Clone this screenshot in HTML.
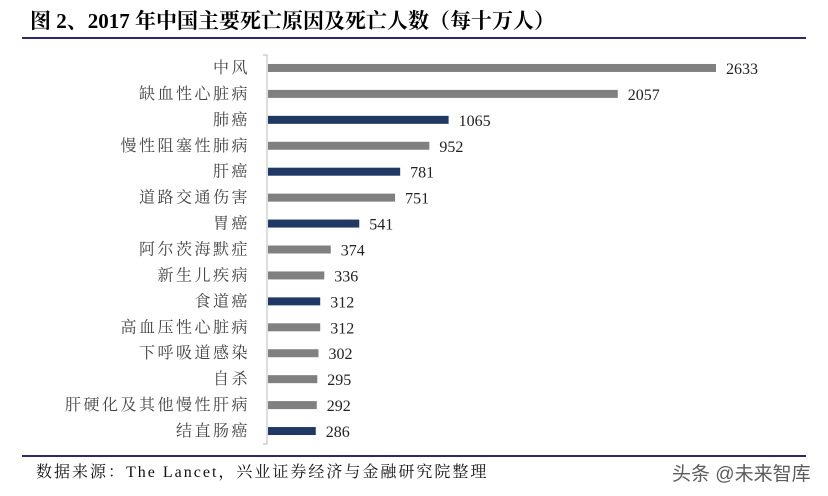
<!DOCTYPE html>
<html><head><meta charset="utf-8"><style>
body{margin:0;background:#fff;width:828px;height:496px;overflow:hidden;font-family:"Liberation Serif","Noto Serif CJK SC",serif;}
svg{display:block}
</style></head><body>
<svg id="c" width="828" height="496">
<text x="30" y="28" font-size="21" font-weight="bold" fill="#000" font-family="'Liberation Serif','Noto Serif CJK SC',serif">图 2、2017 年中国主要死亡原因及死亡人数（每十万人）</text>
<line x1="22" y1="38" x2="806" y2="38" stroke="#2e2a6a" stroke-width="2"/>
<line x1="22" y1="456" x2="806" y2="456" stroke="#2e2a6a" stroke-width="2"/>
<text x="36" y="477" font-size="16" letter-spacing="2" fill="#111">数据来源：The Lancet，兴业证券经济与金融研究院整理</text>
<text x="672" y="480" font-size="19" fill="#333" font-family="'Liberation Sans','Noto Sans CJK SC',sans-serif" opacity="0.8">头条 @未来智库</text>
<g id="plot"></g>
</svg>
<script>
const categories=["中风","缺血性心脏病","肺癌","慢性阻塞性肺病","肝癌","道路交通伤害","胃癌","阿尔茨海默症","新生儿疾病","食道癌","高血压性心脏病","下呼吸道感染","自杀","肝硬化及其他慢性肝病","结直肠癌"];
const values=[2633,2057,1065,952,781,751,541,374,336,312,312,302,295,292,286];
const highlight=[0,0,1,0,1,0,1,0,0,1,0,0,0,0,1];
const ns="http://www.w3.org/2000/svg";
const g=document.getElementById('plot');
const x0=267,x1=716,vmax=2633;
const xs=v=>x0+(v/vmax)*(x1-x0);
const yTop=55,yBot=444,band=(yBot-yTop)/categories.length;
const yc=i=>yTop+band*(i+0.5);
function mk(t,a){const e=document.createElementNS(ns,t);for(const k in a)e.setAttribute(k,a[k]);g.appendChild(e);return e;}
let ax=mk('path',{d:`M${x0-4},${yTop}H${x0}V${yBot}H${x0-4}`,fill:'none',stroke:'#bbb','stroke-width':1});


categories.forEach((c,i)=>{
  const y=yc(i);
  const b=mk('rect',{x:x0+1,y:y-4,width:xs(values[i])-x0-1,height:8,fill:highlight[i]?'#1f3864':'#808080'});
  
  
  const l=mk('text',{x:x0-17,y:y+5,'font-size':16,'letter-spacing':2.5,'text-anchor':'end',fill:'#444','font-family':"'Noto Serif CJK SC',serif"});
  l.textContent=c;
  
  
  const v=mk('text',{x:xs(values[i])+10,y:y+6,'font-size':16,fill:'#222'});
  v.textContent=values[i];
  
  
});
</script>
</body></html>
